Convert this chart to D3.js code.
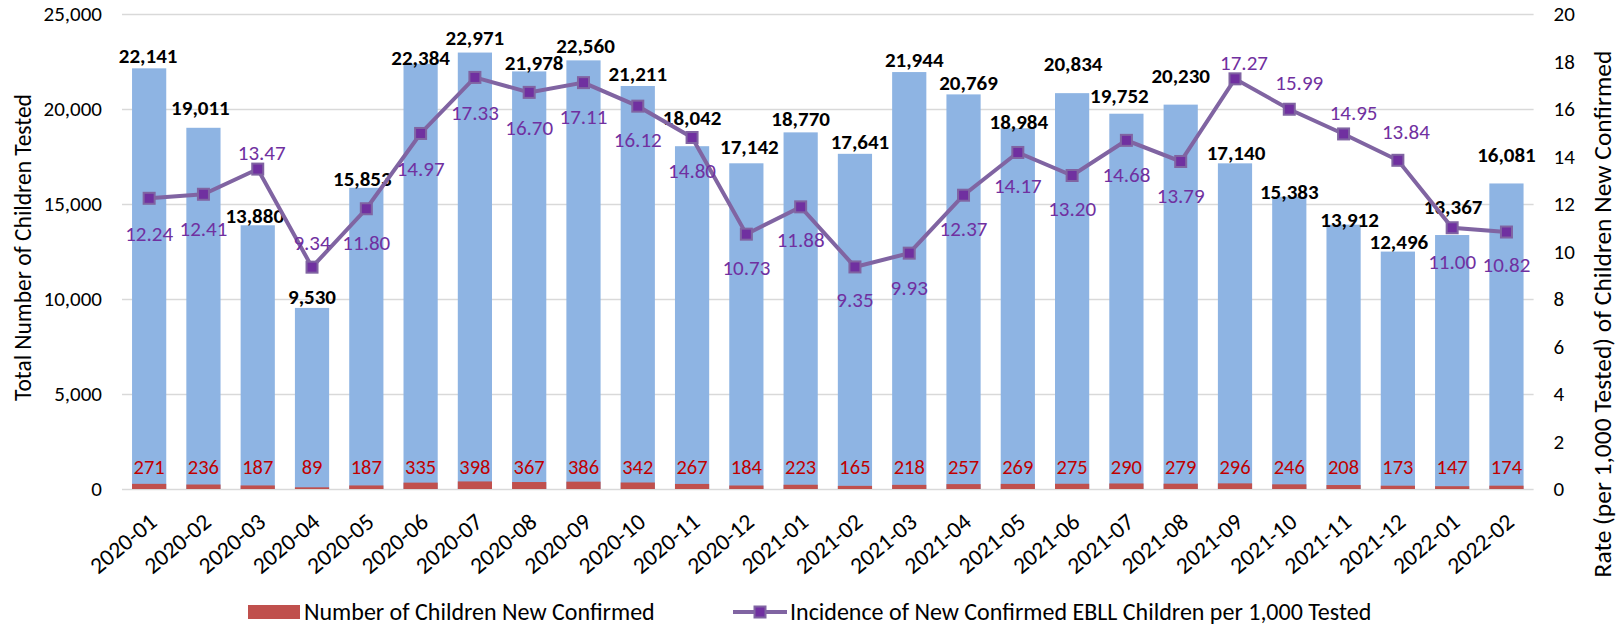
<!DOCTYPE html>
<html>
<head>
<meta charset="utf-8">
<script src="https://cdn.jsdelivr.net/npm/d3@7"></script>
<style>
  body { margin: 0; background: #fff; }
  svg text { font-family: Carlito, Calibri, Lato, sans-serif; }
</style>
</head>
<body>
<div class="chart"></div>
<script>
// chart canvas
var svgWidth = 1623;
var svgHeight = 627;

// data
var months = ["2020-01", "2020-02", "2020-03", "2020-04", "2020-05", "2020-06", "2020-07",
  "2020-08", "2020-09", "2020-10", "2020-11", "2020-12", "2021-01", "2021-02", "2021-03",
  "2021-04", "2021-05", "2021-06", "2021-07", "2021-08", "2021-09", "2021-10", "2021-11",
  "2021-12", "2022-01", "2022-02"];
var totalTested = [22141, 19011, 13880, 9530, 15853, 22384, 22971, 21978, 22560, 21211, 18042,
  17142, 18770, 17641, 21944, 20769, 18984, 20834, 19752, 20230, 17140, 15383, 13912,
  12496, 13367, 16081];
var newConfirmed = [271, 236, 187, 89, 187, 335, 398, 367, 386, 342, 267, 184, 223, 165, 218,
  257, 269, 275, 290, 279, 296, 246, 208, 173, 147, 174];
var rate = [12.24, 12.41, 13.47, 9.34, 11.80, 14.97, 17.33, 16.70, 17.11, 16.12, 14.80, 10.73,
  11.88, 9.35, 9.93, 12.37, 14.17, 13.20, 14.68, 13.79, 17.27, 15.99, 14.95, 13.84, 11.00, 10.82];
var leftTicks = [0, 5000, 10000, 15000, 20000, 25000];
var rightTicks = [0, 2, 4, 6, 8, 10, 12, 14, 16, 18, 20];

// label nudges (the original labels were placed by hand)
var rateLabelDy = [35, 34, -16, -25, 34, 35, 35, 35, 34, 33, 33, 33, 33, 33, 34, 33, 33, 33, 34,
  34, -16, -27, -21, -29, 34, 33];
var rateLabelDx = [0, 0, 4, 0, 0, 0, 0, 0, 0, 0, 0, 0, 0, 0, 0, 0, 0, 0, 0, 0, 9, 10, 10, 8, 0, 0];
var totalLabelDy = [-13, -20, -10, -11, -9, -6, -15, -9, -15, -12, -29, -17, -14, -12, -12, -12,
  -7, -30, -18, -29, -11, -5, -5, -10, -28, -29];
var totalLabelDx = [-1, -3, -3, 0, -4, 0, 0, 5, 2, 0, 0, 3, 0, 5, 5, 5, 1, 1, -7, 0, 1, 0, 6, 1, 1, 0];

var margin = { top: 14, left: 122, right: 1533.6, bottom: 489 };

var data = months.map(function (m, i) {
  return { month: m, total: totalTested[i], confirmed: newConfirmed[i], rate: rate[i], i: i };
});

var svg = d3.select(".chart").append("svg")
  .attr("width", svgWidth)
  .attr("height", svgHeight);

var xBand = d3.scaleBand()
  .domain(months)
  .range([margin.left, margin.right])
  .paddingInner(0.37)
  .paddingOuter(0.185);

var yLeft = d3.scaleLinear().domain([0, 25000]).range([margin.bottom, margin.top]);
var yRight = d3.scaleLinear().domain([0, 20]).range([margin.bottom, margin.top]);

var cx = function (d) { return xBand(d.month) + xBand.bandwidth() / 2; };

// gridlines + left axis
var leftAxis = d3.axisLeft(yLeft)
  .tickValues(leftTicks)
  .tickFormat(d3.format(","))
  .tickSize(-(margin.right - margin.left))
  .tickPadding(20);

svg.append("g")
  .attr("transform", `translate(${margin.left},0)`)
  .call(leftAxis)
  .call(function (g) {
    g.select(".domain").remove();
    g.selectAll(".tick line").attr("stroke", "#d9d9d9").attr("stroke-width", 1.6);
    g.selectAll(".tick text").attr("fill", "#000").style("font-size", "21px");
  });

// right axis
var rightAxis = d3.axisRight(yRight)
  .tickValues(rightTicks)
  .tickSize(0)
  .tickPadding(20);

svg.append("g")
  .attr("transform", `translate(${margin.right},0)`)
  .call(rightAxis)
  .call(function (g) {
    g.select(".domain").remove();
    g.selectAll(".tick text").attr("fill", "#000").style("font-size", "21px");
  });

// bars: total tested
svg.append("g").selectAll("rect")
  .data(data)
  .enter()
  .append("rect")
  .attr("x", function (d) { return xBand(d.month); })
  .attr("width", xBand.bandwidth())
  .attr("y", function (d) { return yLeft(d.total); })
  .attr("height", function (d) { return yLeft(0) - yLeft(d.total); })
  .attr("fill", "#8eb4e3");

// bars: new confirmed
svg.append("g").selectAll("rect")
  .data(data)
  .enter()
  .append("rect")
  .attr("x", function (d) { return xBand(d.month); })
  .attr("width", xBand.bandwidth())
  .attr("y", function (d) { return yLeft(d.confirmed); })
  .attr("height", function (d) { return yLeft(0) - yLeft(d.confirmed); })
  .attr("fill", "#c0504d");

// total labels
svg.append("g").selectAll("text")
  .data(data)
  .enter()
  .append("text")
  .attr("x", function (d) { return cx(d) + totalLabelDx[d.i]; })
  .attr("y", function (d) { return yLeft(d.total) + totalLabelDy[d.i]; })
  .attr("dy", "0.35em")
  .attr("text-anchor", "middle")
  .style("font-size", "21px")
  .style("font-weight", "bold")
  .attr("fill", "#000")
  .text(function (d) { return d3.format(",")(d.total); });

// confirmed labels
svg.append("g").selectAll("text")
  .data(data)
  .enter()
  .append("text")
  .attr("x", cx)
  .attr("y", yLeft(0) - 22)
  .attr("dy", "0.35em")
  .attr("text-anchor", "middle")
  .style("font-size", "20.5px")
  .attr("fill", "#c00000")
  .text(function (d) { return d.confirmed; });

// rate line
var line = d3.line()
  .x(cx)
  .y(function (d) { return yRight(d.rate); });

svg.append("path")
  .datum(data)
  .attr("d", line)
  .attr("fill", "none")
  .attr("stroke", "#8064a2")
  .attr("stroke-width", 4);

svg.append("g").selectAll("rect")
  .data(data)
  .enter()
  .append("rect")
  .attr("x", function (d) { return cx(d) - 5.5; })
  .attr("y", function (d) { return yRight(d.rate) - 5.5; })
  .attr("width", 11)
  .attr("height", 11)
  .attr("fill", "#7030a0")
  .attr("stroke", "#8064a2")
  .attr("stroke-width", 2);

// rate labels
svg.append("g").selectAll("text")
  .data(data)
  .enter()
  .append("text")
  .attr("x", function (d) { return cx(d) + rateLabelDx[d.i]; })
  .attr("y", function (d) { return yRight(d.rate) + rateLabelDy[d.i]; })
  .attr("dy", "0.35em")
  .attr("text-anchor", "middle")
  .style("font-size", "21px")
  .attr("fill", "#7030a0")
  .text(function (d) { return d3.format(".2f")(d.rate); });

// x labels
svg.append("g").selectAll("text")
  .data(data)
  .enter()
  .append("text")
  .attr("transform", function (d) { return `translate(${cx(d) + 4},${margin.bottom + 29}) rotate(-40)`; })
  .attr("text-anchor", "end")
  .attr("dy", "0.35em")
  .style("font-size", "23.5px")
  .attr("fill", "#000")
  .text(function (d) { return d.month; });

// axis titles
svg.append("text")
  .attr("transform", `translate(23, ${(margin.top + margin.bottom) / 2 - 4}) rotate(-90)`)
  .attr("text-anchor", "middle")
  .attr("dy", "0.35em")
  .style("font-size", "23.5px")
  .text("Total Number of Children Tested");

svg.append("text")
  .attr("transform", "translate(1602, 314) rotate(-90)")
  .attr("text-anchor", "middle")
  .attr("dy", "0.35em")
  .style("font-size", "25.5px")
  .text("Rate (per 1,000 Tested) of Children New Confirmed");

// legend
var legend = svg.append("g").attr("transform", "translate(0, 612)");

legend.append("rect")
  .attr("x", 248).attr("y", -7)
  .attr("width", 52).attr("height", 14)
  .attr("fill", "#c0504d");

legend.append("text")
  .attr("x", 304).attr("dy", "0.35em")
  .style("font-size", "24px")
  .text("Number of Children New Confirmed");

legend.append("line")
  .attr("x1", 733).attr("x2", 787)
  .attr("stroke", "#8064a2").attr("stroke-width", 4);

legend.append("rect")
  .attr("x", 754.5).attr("y", -5.5)
  .attr("width", 11).attr("height", 11)
  .attr("fill", "#7030a0")
  .attr("stroke", "#8064a2")
  .attr("stroke-width", 2);

legend.append("text")
  .attr("x", 790).attr("dy", "0.35em")
  .style("font-size", "24px")
  .text("Incidence of New Confirmed EBLL Children per 1,000 Tested");
</script>
</body>
</html>
